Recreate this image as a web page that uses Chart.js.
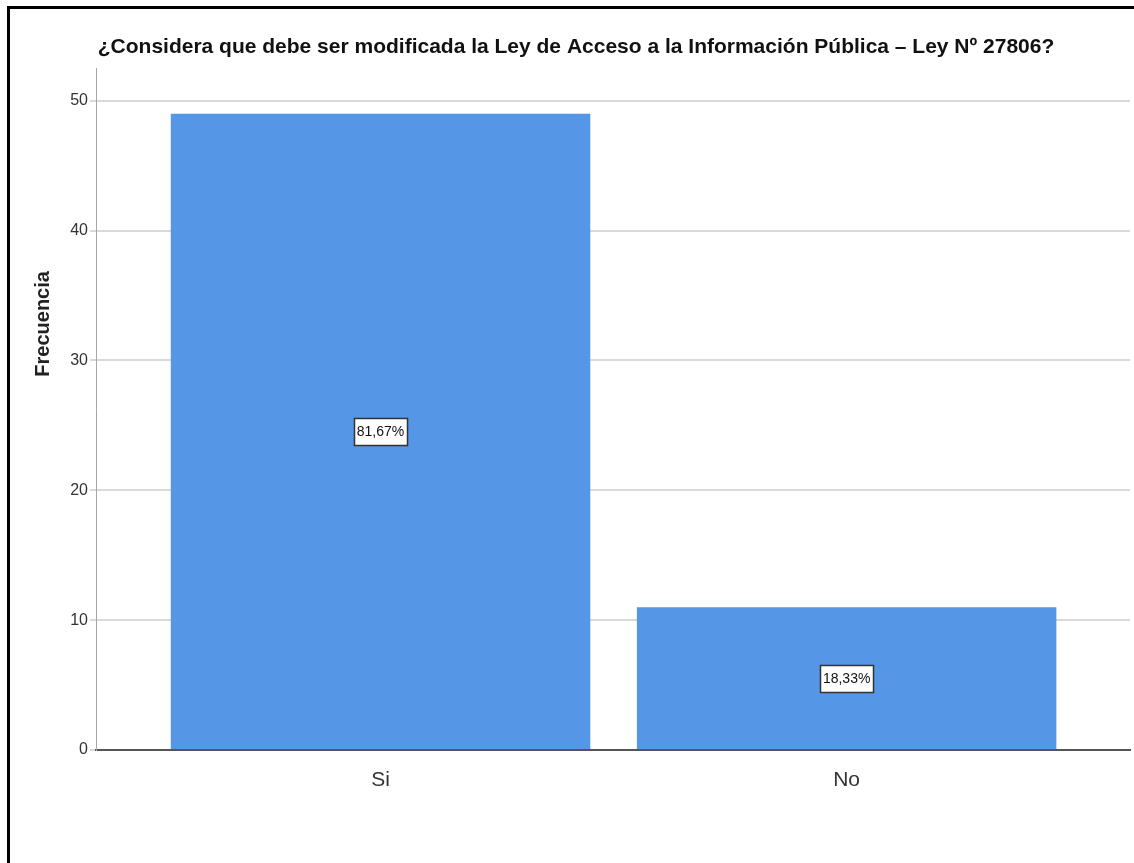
<!DOCTYPE html>
<html>
<head>
<meta charset="utf-8">
<script src="https://cdn.jsdelivr.net/npm/chart.js@4"></script>
<style>
    body { margin: 0; background: #fff; }
    #wrap { position: relative; width: 1134px; height: 863px; overflow: hidden; }
    #frame { position: absolute; left: 7px; top: 6px; width: 1130px; height: 860px; border-left: 3px solid #000; border-top: 3px solid #000; pointer-events: none; }
    canvas { position: absolute; left: 0; top: 0; }
</style>
</head>
<body>
<div id="wrap">
    <canvas id="freqChart" width="1134" height="863"></canvas>
    <div id="frame"></div>
</div>
<script>
// Data
const categories = ['Si', 'No']
const frequencies = [49, 11]
const percentLabels = ['81,67%', '18,33%']
const yTicks = [0, 10, 20, 30, 40, 50]

const chartTitle = '¿Considera que debe ser modificada la Ley de Acceso a la Información Pública – Ley Nº 27806?'
const yTitle = 'Frecuencia'

const sans = "'Liberation Sans Narrow', 'Arial Narrow', 'Liberation Sans', Arial, sans-serif"

// percentage box in the middle of each bar
const barLabels = {
    id: 'barLabels',
    afterDatasetsDraw(chart) {
        const ctx = chart.ctx
        const meta = chart.getDatasetMeta(0)
        ctx.save()
        ctx.font = '14px ' + sans
        ctx.textAlign = 'center'
        ctx.textBaseline = 'middle'
        meta.data.forEach((bar, i) => {
            const p = bar.getProps(['x', 'y', 'base'], true)
            const cy = (p.y + p.base) / 2
            const w = Math.round(ctx.measureText(percentLabels[i]).width + 6)
            const h = 27
            const left = Math.round(p.x - w / 2)
            const top = Math.round(cy - h / 2)
            ctx.fillStyle = '#fff'
            ctx.fillRect(left, top, w, h)
            ctx.strokeStyle = '#333'
            ctx.lineWidth = 1.5
            ctx.strokeRect(left + 0.5, top + 0.5, w, h)
            ctx.fillStyle = '#111'
            ctx.fillText(percentLabels[i], p.x, cy + 1)
        })
        ctx.restore()
    }
}

// y axis title, sits higher than the middle like in the spss output
const yAxisTitle = {
    id: 'yAxisTitle',
    afterDraw(chart) {
        const ctx = chart.ctx
        const area = chart.chartArea
        ctx.save()
        ctx.translate(43, area.top + (area.bottom - area.top) * 0.375)
        ctx.rotate(-Math.PI / 2)
        ctx.font = 'bold 20px "Liberation Sans", Arial, sans-serif'
        ctx.fillStyle = '#222'
        ctx.textAlign = 'center'
        ctx.textBaseline = 'middle'
        ctx.fillText(yTitle, 0, 0)
        ctx.restore()
    }
}

const data = {
    datasets: [{
        label: 'Frecuencia',
        data: frequencies.map((v, i) => ({x: i, y: v})),
        backgroundColor: '#5596e6',
        borderWidth: 0,
        categoryPercentage: 1,
        barPercentage: 0.9
    }]
}

const config = {
    type: 'bar',
    data,
    options: {
        responsive: false,
        animation: false,
        layout: {
            padding: {left: 22, right: 4, top: 0, bottom: 63}
        },
        plugins: {
            legend: {display: false},
            tooltip: {enabled: false},
            title: {
                display: true,
                text: chartTitle,
                color: '#111',
                font: {family: sans, size: 21, weight: 'bold'},
                padding: {top: 35, bottom: 8}
            }
        },
        scales: {
            x: {
                type: 'linear',
                offset: false,
                min: -0.6105,
                max: 1.608,
                afterBuildTicks: scale => {
                    scale.ticks = categories.map((c, i) => ({value: i}))
                },
                afterFit: scale => { scale.height = 50 },
                grid: {display: false},
                border: {display: true, color: '#555', width: 2},
                ticks: {
                    color: '#333',
                    font: {family: sans, size: 21},
                    padding: 10,
                    callback: v => categories[v]
                }
            },
            y: {
                min: 0,
                max: 52.5,
                afterBuildTicks: scale => {
                    scale.ticks = yTicks.map(v => ({value: v}))
                },
                afterFit: scale => { scale.width = 74 },
                grid: {color: '#d9d9d9', lineWidth: 2, tickLength: 6},
                border: {display: true, color: '#a6a6a6', width: 1},
                ticks: {
                    color: '#333',
                    font: {family: sans, size: 16},
                    padding: 2
                }
            }
        }
    },
    plugins: [barLabels, yAxisTitle]
}

const myChart = new Chart(document.getElementById('freqChart'), config)
</script>
</body>
</html>
